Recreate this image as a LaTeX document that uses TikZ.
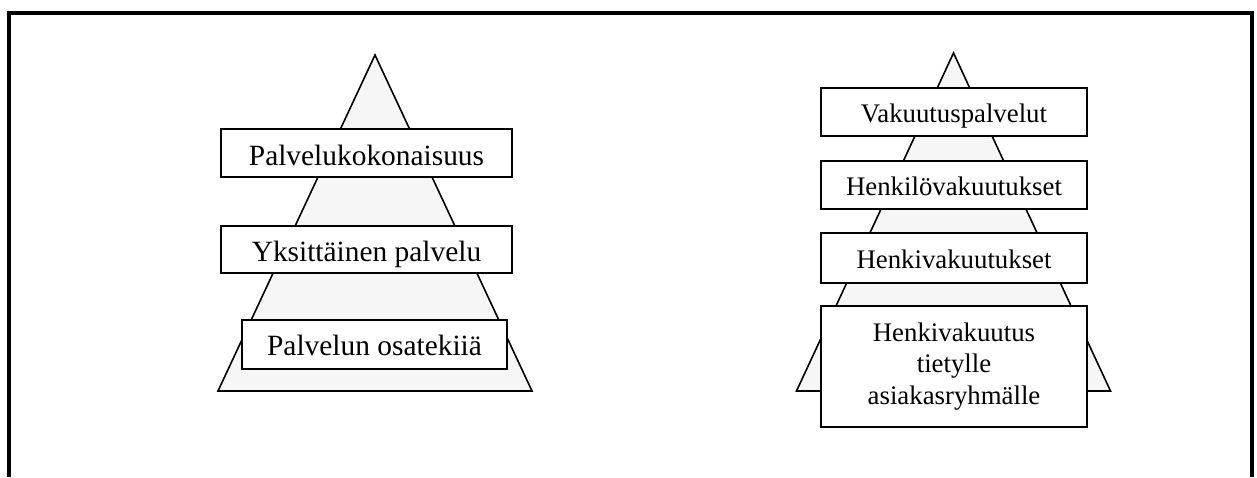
\documentclass[tikz,border=0pt]{standalone}
\usepackage{fontspec}
\setmainfont{Liberation Serif}

\begin{document}
\begin{tikzpicture}[x=1pt, y=-1pt,
  piramidi/.style={draw, line width=1.6pt, line join=miter, fill=gray!7},
  laatikko/.style={draw, line width=1.6pt, fill=white, inner sep=0pt},
  yksirivi/.style={laatikko, text height=#1, text depth=0pt},
  yksirivi/.default=20pt]
\useasboundingbox (0,0) rectangle (1257,477);
% kehys, alareuna jää kuvan ulkopuolelle
\draw[line width=3.8pt] (9,477) -- (9,13) -- (1252,13) -- (1252,477);
% pyramidit laatikoiden taakse
\foreach \x/\y in {375/55, 953.5/53}{
  \draw[piramidi] (\x,\y) -- (\x+157,391) -- (\x-157,391) -- cycle;
}
% vasen: palvelun tasot
\begin{scope}[font=\fontsize{29.4}{34}\selectfont]
\node[yksirivi=24pt, minimum width=291pt, minimum height=48pt] (kokonaisuus) at (366.5,153) {Palvelukokonaisuus};
\node[yksirivi=23pt, minimum width=291pt, minimum height=47pt] (palvelu) at (366.5,249.5) {Yksittäinen palvelu};
\node[yksirivi=21pt, minimum width=265pt, minimum height=49pt] (osatekija) at (374.5,344.5) {Palvelun osatekiiä};
\end{scope}
% oikea: vakuutusesimerkki
\begin{scope}[font=\fontsize{26.8}{31.5}\selectfont]
\node[yksirivi, minimum width=266pt, minimum height=48pt] (vakuutus) at (954,112) {Vakuutuspalvelut};
\node[yksirivi, minimum width=266pt, minimum height=48pt] (henkilo) at (954,185) {Henkilövakuutukset};
\node[yksirivi, minimum width=266pt, minimum height=50pt] (henki) at (954,258) {Henkivakuutukset};
\node[laatikko, align=center, minimum width=266pt, minimum height=121pt] (ryhma) at (954,366.5)
  {Henkivakuutus\\tietylle\\asiakasryhmälle};
\end{scope}
\end{tikzpicture}
\end{document}
